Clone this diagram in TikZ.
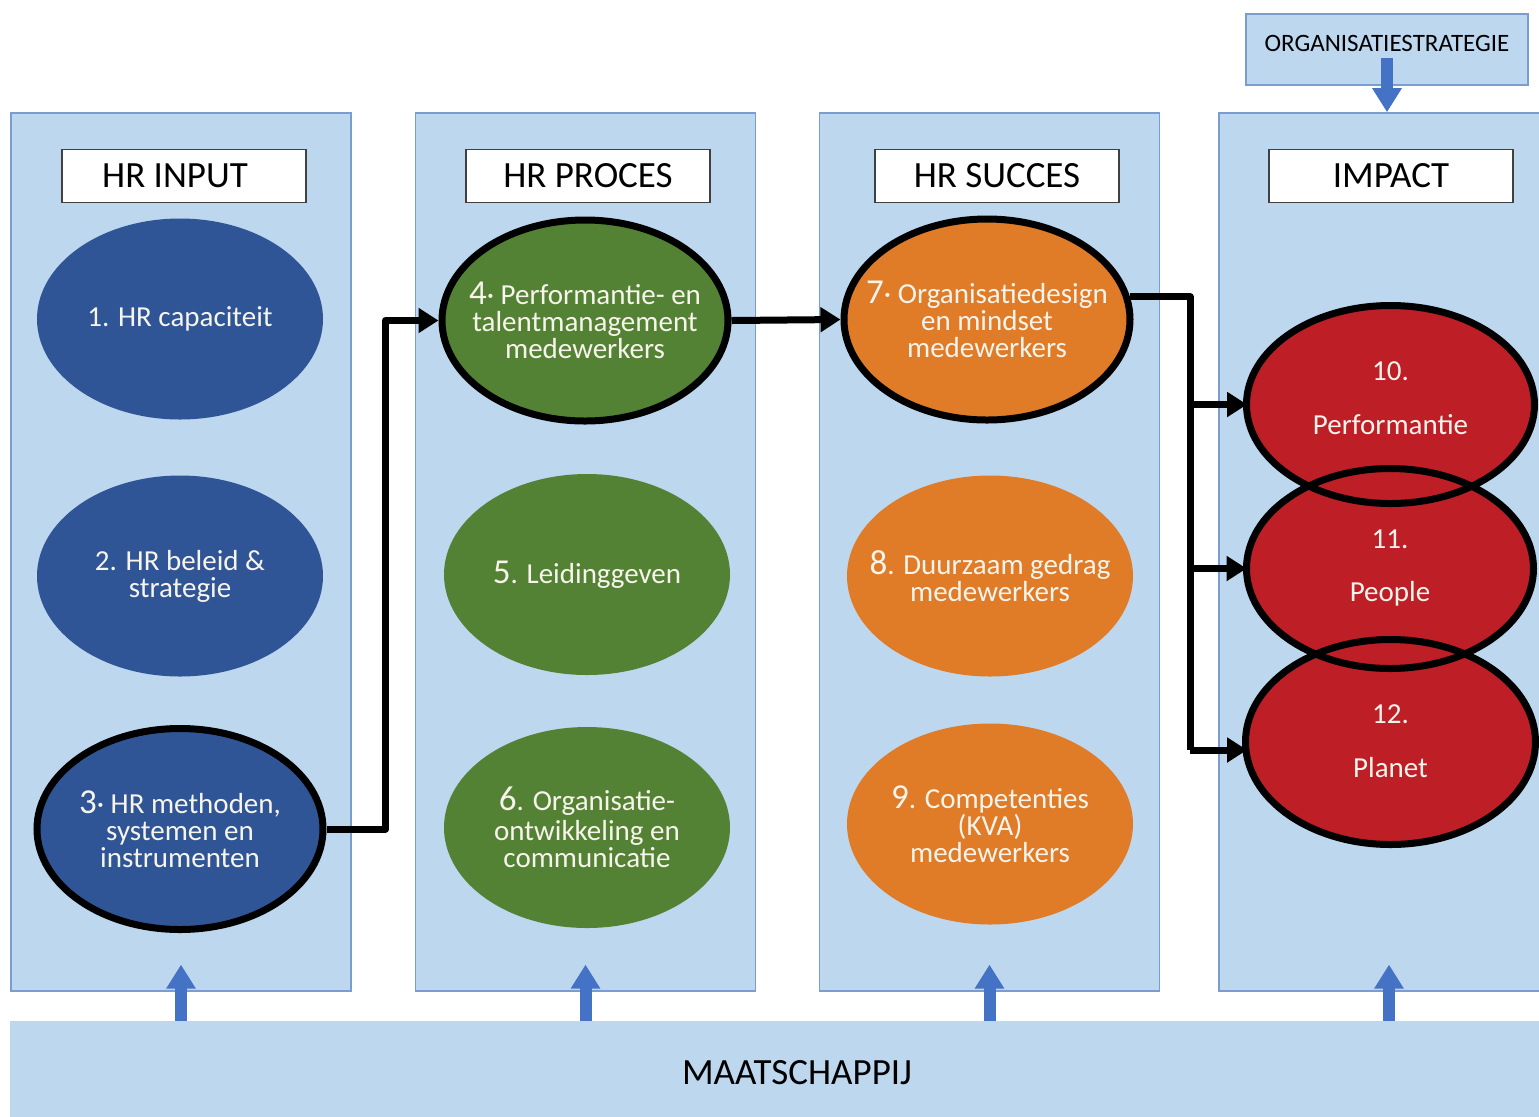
\documentclass[tikz,border=0pt]{standalone}
\usepackage{fontspec}
\setmainfont{Carlito}
\usetikzlibrary{arrows.meta,calc,shapes.geometric}

\definecolor{panelfill}{HTML}{BDD7EE}
\definecolor{paneledge}{HTML}{7A9CCF}
\definecolor{flowblue}{HTML}{4472C4}
\definecolor{hrblue}{HTML}{2F5597}
\definecolor{hrgreen}{HTML}{548235}
\definecolor{hrorange}{HTML}{E07B28}
\definecolor{hrred}{HTML}{BE1E26}
\definecolor{labeltext}{HTML}{F7F4EC}

\newcommand{\bignr}[1]{{\fontsize{17.5}{13.5}\selectfont #1}}

\begin{document}
\begin{tikzpicture}[x=0.5pt,y=-0.5pt,
  panel/.style={draw=paneledge,fill=panelfill,line width=0.8pt,minimum width=170pt,minimum height=439pt,inner sep=0pt},
  titlebox/.style={draw=black!75,fill=white,line width=0.6pt,minimum width=122pt,minimum height=26.5pt,inner sep=0pt,
    font=\fontsize{18.5}{19}\selectfont},
  bubbletext/.style={text=labeltext,align=center,inner sep=0pt,font=\fontsize{14.5}{13.5}\selectfont},
  bubble/.style={ellipse,minimum width=143pt,minimum height=100.5pt,inner sep=0pt,
    label={[bubbletext]center:#1}},
  ring/.style={draw=black,line width=3.5pt},
  link/.style={draw=black,line width=3.5pt,line join=round},
  linkarrow/.style={link,-{Triangle[length=10pt,width=12pt]}},
  liftarrow/.style={draw=flowblue,line width=6pt,-{Triangle[length=12pt,width=14pt]}},
]
\useasboundingbox (0,0) rectangle (1539,1116);

% columns
\node[panel] (p1) at (181,552) {};
\node[panel] (p2) at (585.5,552) {};
\node[panel] (p3) at (989.5,552) {};
\node[panel] (p4) at (1389,552) {};

% society bar along the bottom
\node[fill=panelfill,minimum width=787pt,minimum height=55pt,inner sep=0pt] (maat) at (797,1076) {};
\node[font=\fontsize{18.5}{19}\selectfont] at (797,1073) {MAATSCHAPPIJ};

% strategy box at the top right
\node[draw=paneledge,fill=panelfill,line width=0.8pt,minimum width=141pt,minimum height=35.5pt,inner sep=0pt] (org) at (1387,49.5) {};
\node[font=\fontsize{12.5}{13}\selectfont] at (1387,43) {ORGANISATIESTRATEGIE};
\coordinate (orgout) at (1387,58);
\draw[liftarrow] (orgout) -- (orgout|-p4.north);

% column headers
\node[titlebox] (t1) at (184,176) {\hspace*{-9pt}HR INPUT};
\node[titlebox] (t2) at (588,176) {HR PROCES};
\node[titlebox] (t3) at (997,176) {HR SUCCES};
\node[titlebox] (t4) at (1391,176) {IMPACT};

% HR input
\node[fill=hrblue,bubble={1. HR capaciteit}] (e1) at (180,319) {};
\node[fill=hrblue,bubble={2. HR beleid \&\\strategie}] (e2) at (180,576) {};
\node[fill=hrblue,ring,minimum width=143.5pt,minimum height=102.5pt,
  bubble={\bignr{3}· HR methoden,\\systemen en\\instrumenten}] (e3) at (180,829) {};

% HR process
\node[fill=hrgreen,ring,minimum width=141.5pt,minimum height=103pt,
  bubble={\bignr{4}· Performantie- en\\talentmanagement\\medewerkers}] (e4) at (585,320.5) {};
\node[fill=hrgreen,bubble={\bignr{5}. Leidinggeven}] (e5) at (587,574.5) {};
\node[fill=hrgreen,bubble={\bignr{6}. Organisatie-\\[1.5pt]ontwikkeling en\\communicatie}] (e6) at (587,827.5) {};

% HR success
\node[fill=hrorange,ring,minimum width=146pt,minimum height=98.5pt,
  bubble={\bignr{7}· Organisatiedesign\\en mindset\\medewerkers}] (e7) at (987,319.5) {};
\node[fill=hrorange,bubble={\bignr{8}. Duurzaam gedrag\\medewerkers}] (e8) at (990,576) {};
\node[fill=hrorange,bubble={\bignr{9}. Competenties\\(KVA)\\medewerkers}] (e9) at (990,824) {};

% impact
\node[fill=hrred,minimum width=144pt,minimum height=99pt,
  bubble={\raisebox{6.5pt}{\shortstack{10.\\[13.5pt]Performantie}}}] (e10) at (1390.5,404.5) {};
\node[fill=hrred,minimum width=143.5pt,minimum height=100pt,
  bubble={\raisebox{3pt}{\shortstack{11.\\[13.5pt]People}}}] (e11) at (1390,568.5) {};
\node[fill=hrred,minimum width=145pt,minimum height=102.5pt,
  bubble={\raisebox{1pt}{\shortstack{12.\\[13.5pt]Planet}}}] (e12) at (1390.5,742) {};
\draw[ring] (e10.center) ellipse [x radius=144, y radius=99];
\draw[ring] (e11.center) ellipse [x radius=143.5, y radius=100];
\draw[ring] (e12.center) ellipse [x radius=145, y radius=102.5];

% flow between the key elements
\draw[linkarrow] (e3.east) -- ++(59,0) |- (e4.west);
\draw[linkarrow] (e4.east) -- (e7.west);
\coordinate (bus) at (1190,750);
\draw[link] (e7.9) -| (bus);
\draw[linkarrow] (bus|-e10.west) -- (e10.west);
\draw[linkarrow] (bus|-e11.west) -- (e11.west);
\draw[linkarrow] (bus) -- (bus-|e12.west);

% society feeding every column
\draw[liftarrow] (maat.north-|p1.center) -- ++(0,-56);
\draw[liftarrow] (maat.north-|p2.center) -- ++(0,-56);
\draw[liftarrow] (maat.north-|p3.center) -- ++(0,-56);
\draw[liftarrow] (maat.north-|p4.center) -- ++(0,-56);
\end{tikzpicture}
\end{document}
